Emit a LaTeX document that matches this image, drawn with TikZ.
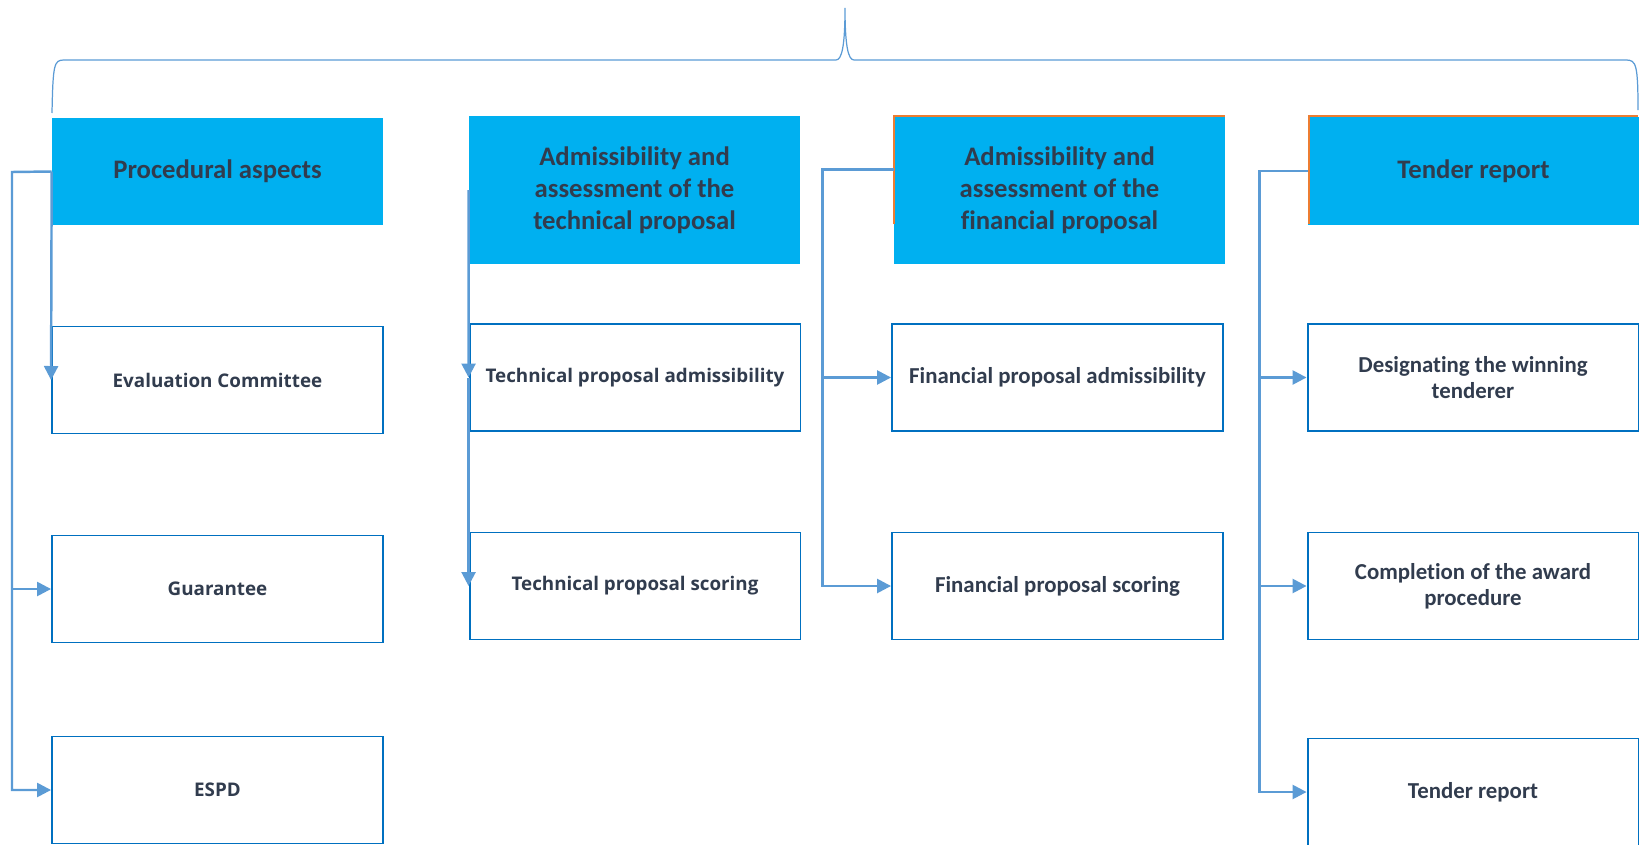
\documentclass[tikz,border=0pt]{standalone}
\usepackage{fontspec}
\setmainfont{Carlito}[Ligatures=NoCommon]
\newfontfamily\opensans{Open Sans}
\usetikzlibrary{arrows.meta,calc}
\definecolor{headblue}{HTML}{00B0F0}
\definecolor{boxblue}{HTML}{0070C0}
\definecolor{linkblue}{HTML}{5B9BD5}
\definecolor{textgray}{HTML}{313C4E}
\definecolor{edgeorange}{HTML}{ED7D31}

\begin{document}
\begin{tikzpicture}[x=0.02cm,y=-0.02cm,
  head/.style={fill=headblue,text=textgray,font=\fontsize{15.2}{18.3}\selectfont\bfseries,align=center,minimum width=6.62cm,inner sep=0pt},
  box/.style={draw=boxblue,line width=1.1pt,text=textgray,align=center,minimum width=6.62cm,minimum height=2.14cm,inner sep=0pt,font=\fontsize{13}{15}\selectfont\bfseries},
  osbox/.style={box,font=\opensans\fontsize{10.7}{13}\selectfont\bfseries},
  link/.style={draw=linkblue,line width=1.4pt,-{Triangle[length=0.28cm,width=0.28cm]}}]
  \useasboundingbox (0,0) rectangle (1640,845);
  % brace on top
  \draw[linkblue,line width=0.7pt] (52,113) .. controls (53,64) and (54,60) .. (64,60) -- (836,60)
    .. controls (842,60) and (845,45) .. (845,8) .. controls (845,45) and (848,60) .. (854,60) -- (1626,60)
    .. controls (1636,60) and (1638,64) .. (1638,110);
  % headers
  \node[head,minimum height=2.14cm] (phead) at (217.5,171.5) {Procedural aspects};
  \node[head,minimum height=2.96cm] (thead) at (634.5,190) {Admissibility and\\assessment of the\\technical proposal};
  \node[head,minimum height=2.96cm] (fhead) at (1059.5,190) {Admissibility and\\assessment of the\\financial proposal};
  \node[head,minimum height=2.18cm] (rhead) at (1473.5,171) {Tender report};
  \draw[edgeorange,line width=0.8pt] (894,224) -- (894,116) -- (1225,116);
  \draw[edgeorange,line width=0.8pt] (1309,224) -- (1309,116) -- (1638,116);
  % column boxes
  \node[osbox] (eval) at (217.5,380) {Evaluation Committee};
  \node[osbox] (guar) at (217.5,589) {Guarantee};
  \node[osbox] (espd) at (217.5,790) {ESPD};
  \node[osbox] (tadm) at (635,377.5) {Technical proposal admissibility};
  \node[osbox] (tsco) at (635,586) {Technical proposal scoring};
  \node[box] (fadm) at (1057.5,377.5) {Financial proposal admissibility};
  \node[box] (fsco) at (1057.5,586) {Financial proposal scoring};
  \node[box] (rwin) at (1473,377.5) {Designating the winning\\tenderer};
  \node[box] (rend) at (1473,586) {Completion of the award\\procedure};
  \node[box] (rrep) at (1473,792) {Tender report};
  % connectors
  \coordinate (pc) at (12,172);
  \draw[link] (phead.west) -- (eval.west);
  \draw[link] (phead.west) -- (pc) |- (espd.west);
  \draw[link] (pc |- guar.west) -- (guar.west);
  \draw[link] (thead.west) -- (tadm.west);
  \draw[link] (tadm.west) -- (tsco.west);
  \coordinate (fout) at ($(fhead.north west)+(0,54)$);
  \coordinate (fc) at ($(fout)+(-71,0)$);
  \draw[link] (fout) -- (fc) |- (fsco.west);
  \draw[link] (fc |- fadm.west) -- (fadm.west);
  \coordinate (rc) at ($(rhead.west)+(-48,0)$);
  \draw[link] (rhead.west) -- (rc) |- (rrep.west);
  \draw[link] (rc |- rwin.west) -- (rwin.west);
  \draw[link] (rc |- rend.west) -- (rend.west);
\end{tikzpicture}
\end{document}
